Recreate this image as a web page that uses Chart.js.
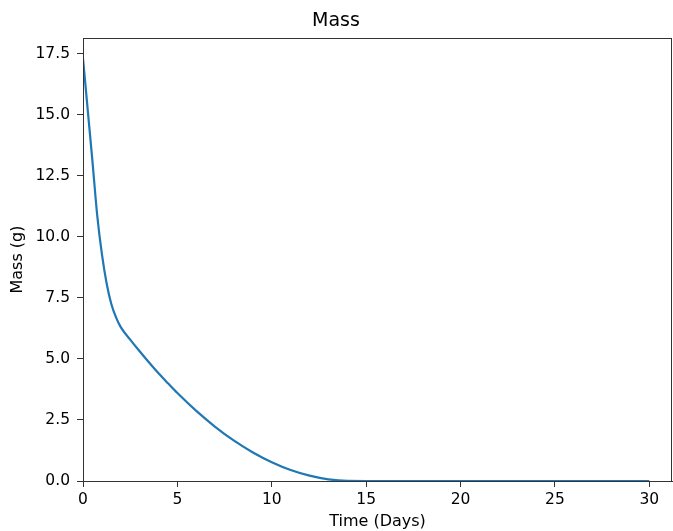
<!DOCTYPE html>
<html>
<head>
<meta charset="utf-8">
<title>Mass</title>
<script src="https://cdn.jsdelivr.net/npm/chart.js@4.4.0/dist/chart.umd.min.js"></script>
<style>
  body { margin: 0; background: #fff; }
  #wrap { width: 673px; height: 531px; }
</style>
</head>
<body>
<div id="wrap"><canvas id="massChart" width="673" height="531"></canvas></div>
<script>
// data
const days = [0, 0.25, 0.5, 0.75, 1, 1.25, 1.5, 1.75, 2, 2.5, 3, 3.5, 4, 4.5, 5,
              6, 7, 8, 9, 10, 11, 12, 13, 14, 15, 20, 25, 30];
const massGrams = [17.3, 15.2, 13.1, 10.9, 9.3, 8.1, 7.25, 6.7, 6.3, 5.79, 5.31, 4.85, 4.41, 4.0, 3.6,
                   2.87, 2.22, 1.65, 1.17, 0.77, 0.45, 0.22, 0.07, 0.005, 0, 0, 0, 0];
const xTicks = [0, 5, 10, 15, 20, 25, 30];
const yTicks = [0, 2.5, 5, 7.5, 10, 12.5, 15, 17.5];

const FONT = "'DejaVu Sans', sans-serif";
const AXIS = '#333';

// matplotlib-like box around the plot
const frame = {
    id: 'frame',
    afterDraw(chart) {
        const a = chart.chartArea;
        const ctx = chart.ctx;
        ctx.save();
        ctx.strokeStyle = AXIS;
        ctx.lineWidth = 1;
        ctx.strokeRect(Math.round(a.left) + 0.5, Math.round(a.top) + 0.5,
                       Math.round(a.right - a.left) - 1, Math.round(a.bottom - a.top));
        ctx.restore();
    }
};

const ctx = document.getElementById('massChart').getContext('2d');
new Chart(ctx, {
    type: 'line',
    data: {
        datasets: [{
            label: 'Mass',
            data: days.map((d, i) => ({ x: d, y: massGrams[i] })),
            borderColor: '#1f77b4',
            borderWidth: 2.2,
            pointRadius: 0,
            fill: false,
            cubicInterpolationMode: 'monotone'
        }]
    },
    options: {
        responsive: false,
        animation: false,
        layout: { padding: { left: 0, right: 1, top: 0, bottom: 0 } },
        plugins: {
            legend: { display: false },
            tooltip: { enabled: false },
            title: {
                display: true,
                text: 'Mass',
                color: '#000',
                font: { family: FONT, size: 19, weight: 'normal' },
                padding: { top: 10, bottom: 5.2 }
            }
        },
        scales: {
            x: {
                type: 'linear',
                min: 0,
                max: 31.2,
                afterBuildTicks: s => { s.ticks = xTicks.map(v => ({ value: v })); },
                afterFit: s => { s.height = 50; },
                grid: { drawOnChartArea: false, drawTicks: true, tickLength: 6, color: AXIS },
                border: { color: AXIS, width: 1 },
                ticks: { color: '#000', padding: 4, maxRotation: 0, font: { family: FONT, size: 15.5 } },
                title: {
                    display: true,
                    text: 'Time (Days)',
                    color: '#000',
                    font: { family: FONT, size: 16 },
                    padding: { top: 0, bottom: 0 }
                }
            },
            y: {
                type: 'linear',
                min: 0,
                max: 18.14,
                afterBuildTicks: s => { s.ticks = yTicks.map(v => ({ value: v })); },
                afterFit: s => { s.width = 83; },
                grid: { drawOnChartArea: false, drawTicks: true, tickLength: 6, color: AXIS },
                border: { color: AXIS, width: 1 },
                ticks: {
                    color: '#000',
                    padding: 7,
                    font: { family: FONT, size: 15.5 },
                    callback: v => Number(v).toFixed(1)
                },
                title: {
                    display: true,
                    text: 'Mass (g)',
                    color: '#000',
                    font: { family: FONT, size: 16 },
                    padding: { top: 8.7, bottom: 0 }
                }
            }
        }
    },
    plugins: [frame]
});
</script>
</body>
</html>
